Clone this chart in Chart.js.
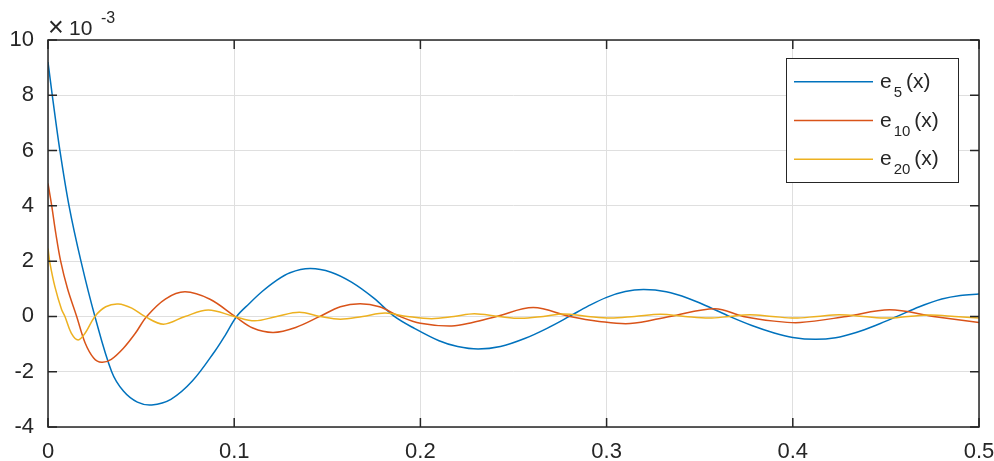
<!DOCTYPE html>
<html>
<head>
<meta charset="utf-8">
<script src="https://cdn.jsdelivr.net/npm/chart.js@4.4.1/dist/chart.umd.min.js"></script>
<style>
  html, body { margin: 0; padding: 0; background: #fff; }
</style>
</head>
<body>
<canvas id="errChart" width="994" height="461"></canvas>
<script>
// valores (eixo y em unidades de 1e-3)

const e5X = [0, 0.0023, 0.0064, 0.0113, 0.0177, 0.0252, 0.0342, 0.0405, 0.048, 0.0557, 0.066, 0.0775,
  0.0897, 0.095, 0.1013, 0.108, 0.115, 0.122, 0.13, 0.1407, 0.152, 0.163, 0.175, 0.186, 0.197, 0.21,
  0.22, 0.231, 0.243, 0.256, 0.268, 0.28, 0.29, 0.3, 0.31, 0.32, 0.332, 0.344, 0.355, 0.366, 0.378,
  0.39, 0.4, 0.412, 0.423, 0.434, 0.445, 0.456, 0.468, 0.48, 0.49, 0.5];
const e5Y = [9.2, 8, 6, 4, 2, 0, -2, -2.7, -3.1, -3.2, -3.0, -2.34,
  -1.25, -0.7, 0, 0.46, 0.9, 1.27, 1.58, 1.73, 1.6, 1.24, 0.66, 0, -0.44, -0.88,
  -1.09, -1.18, -1.09, -0.8, -0.43, 0, 0.37, 0.69, 0.9, 0.97, 0.89, 0.65, 0.34, 0, -0.33,
  -0.6, -0.76, -0.83, -0.77, -0.58, -0.31, 0, 0.35, 0.63, 0.76, 0.81];

const e10X = [0, 0.002, 0.0042, 0.0068, 0.0105, 0.0154, 0.0199, 0.0245, 0.0288, 0.034, 0.0405, 0.047,
  0.053, 0.063, 0.0736, 0.087, 0.1004, 0.11, 0.121, 0.133, 0.146, 0.157, 0.1676, 0.178, 0.189, 0.2,
  0.2168, 0.228, 0.241, 0.2606, 0.2803, 0.296, 0.3126, 0.334, 0.3582, 0.3734, 0.39, 0.4039, 0.4289,
  0.452, 0.4755, 0.5];
const e10Y = [4.81, 4, 3, 2, 1, 0, -0.95, -1.5, -1.66, -1.55, -1.15, -0.6,
  0, 0.63, 0.89, 0.62, 0, -0.42, -0.58, -0.4, 0, 0.35, 0.46, 0.35, 0, -0.25,
  -0.35, -0.22, 0, 0.32, 0, -0.18, -0.26, 0, 0.28, 0, -0.17, -0.22, 0,
  0.24, 0, -0.22];

const e20X = [0, 0.001, 0.0038, 0.0073, 0.0091, 0.0125, 0.0162, 0.02, 0.0252, 0.031, 0.0378, 0.045,
  0.052, 0.062, 0.0736, 0.0861, 0.1, 0.111, 0.1228, 0.135, 0.146, 0.157, 0.169, 0.181, 0.193, 0.206,
  0.218, 0.229, 0.242, 0.254, 0.266, 0.277, 0.29, 0.302, 0.315, 0.329, 0.342, 0.355, 0.366, 0.377,
  0.389, 0.401, 0.413, 0.425, 0.438, 0.451, 0.462, 0.474, 0.487, 0.5];
const e20Y = [2.46, 1.95, 1.05, 0.25, 0, -0.6, -0.85, -0.6, 0, 0.35, 0.45, 0.3,
  0, -0.28, 0, 0.23, 0, -0.16, 0, 0.15, 0, -0.1, 0, 0.12, 0, -0.08,
  0, 0.1, 0, -0.07, 0, 0.09, 0, -0.06, 0, 0.08, 0, -0.06, 0, 0.06,
  0, -0.06, 0, 0.06, 0, -0.06, 0, 0.05, 0, -0.06];

const seriesSubs = ['5', '10', '20'];
const seriesColors = ['#0072BD', '#D95319', '#EDB120'];
const xTicks = [0, 0.1, 0.2, 0.3, 0.4, 0.5];
const yTicks = [-4, -2, 0, 2, 4, 6, 8, 10];

const FONT = '"Liberation Sans", Arial, Helvetica, sans-serif';
const TXT = '#262626';

const toPoints = (xs, ys) => xs.map((x, i) => ({ x: x, y: ys[i] }));
const allX = [e5X, e10X, e20X];
const allY = [e5Y, e10Y, e20Y];

const datasets = seriesSubs.map((s, i) => ({
  label: 'e' + s + '(x)',
  sub: s,
  data: toPoints(allX[i], allY[i]),
  borderColor: seriesColors[i],
  backgroundColor: seriesColors[i],
  borderWidth: 1.5,
  pointRadius: 0,
  tension: 0.35,
  fill: false,
  order: 3 - i
}));

// caixa estilo matlab, ticks para dentro, expoente e legenda
const matlabBox = {
  id: 'matlabBox',
  afterDraw(chart) {
    const { ctx, chartArea: a, scales } = chart;
    const xs = scales.x, ys = scales.y;
    const tl = 9;
    ctx.save();
    ctx.strokeStyle = TXT;
    ctx.lineWidth = 1.5;
    ctx.strokeRect(a.left, a.top, a.right - a.left, a.bottom - a.top);

    ctx.beginPath();
    xTicks.forEach(v => {
      const px = xs.getPixelForValue(v);
      ctx.moveTo(px, a.bottom); ctx.lineTo(px, a.bottom - tl);
      ctx.moveTo(px, a.top); ctx.lineTo(px, a.top + tl);
    });
    yTicks.forEach(v => {
      const py = ys.getPixelForValue(v);
      ctx.moveTo(a.left, py); ctx.lineTo(a.left + tl, py);
      ctx.moveTo(a.right, py); ctx.lineTo(a.right - tl, py);
    });
    ctx.stroke();

    // x10^-3
    ctx.fillStyle = TXT;
    ctx.textBaseline = 'alphabetic';
    ctx.textAlign = 'left';
    ctx.font = '27px ' + FONT;
    ctx.fillText('\u00D7', 48, 36);
    ctx.font = '21px ' + FONT;
    ctx.fillText('10', 69, 35);
    ctx.font = '16px ' + FONT;
    ctx.fillText('-3', 101, 23);

    // legenda
    const lx = 786, ly = 58, lw = 172, lh = 124;
    ctx.fillStyle = '#fff';
    ctx.fillRect(lx, ly, lw, lh);
    ctx.strokeStyle = TXT;
    ctx.lineWidth = 1;
    ctx.strokeRect(lx + 0.5, ly + 0.5, lw, lh);
    chart.data.datasets.forEach((ds, i) => {
      const yy = 81.7 + i * 38.8;
      ctx.strokeStyle = ds.borderColor;
      ctx.lineWidth = 1.5;
      ctx.beginPath();
      ctx.moveTo(794, yy); ctx.lineTo(873, yy);
      ctx.stroke();
      ctx.fillStyle = TXT;
      let tx = 880;
      ctx.font = '21px ' + FONT;
      ctx.fillText('e', tx, yy + 6);
      tx += ctx.measureText('e').width + 2;
      ctx.font = '15px ' + FONT;
      ctx.fillText(ds.sub, tx, yy + 15);
      tx += ctx.measureText(ds.sub).width + 4;
      ctx.font = '21px ' + FONT;
      ctx.fillText('(x)', tx, yy + 6);
    });
    ctx.restore();
  }
};

const ctx = document.getElementById('errChart').getContext('2d');
const chart = new Chart(ctx, {
  type: 'line',
  data: { datasets: datasets },
  options: {
    responsive: false,
    animation: false,
    devicePixelRatio: 1,
    layout: { padding: { top: 40, right: 15, left: 0, bottom: 0 } },
    plugins: {
      legend: { display: false },
      tooltip: { enabled: false }
    },
    scales: {
      x: {
        type: 'linear',
        min: 0,
        max: 0.5,
        afterBuildTicks: s => { s.ticks = xTicks.map(v => ({ value: v })); },
        afterFit: s => { s.height = 34; s.paddingLeft = 0; s.paddingRight = 0; },
        ticks: {
          color: TXT,
          padding: 12,
          maxRotation: 0,
          font: { family: FONT, size: 22 },
          callback: v => String(Math.round(v * 10) / 10)
        },
        grid: { color: '#dfdfdf', drawTicks: false },
        border: { display: false }
      },
      y: {
        type: 'linear',
        min: -4,
        max: 10,
        afterBuildTicks: s => { s.ticks = yTicks.map(v => ({ value: v })); },
        afterFit: s => { s.width = 48; s.paddingTop = 0; s.paddingBottom = 0; },
        ticks: {
          color: TXT,
          padding: 14,
          font: { family: FONT, size: 22 },
          callback: v => String(v)
        },
        grid: { color: '#dfdfdf', drawTicks: false },
        border: { display: false }
      }
    }
  },
  plugins: [matlabBox]
});
</script>
</body>
</html>
